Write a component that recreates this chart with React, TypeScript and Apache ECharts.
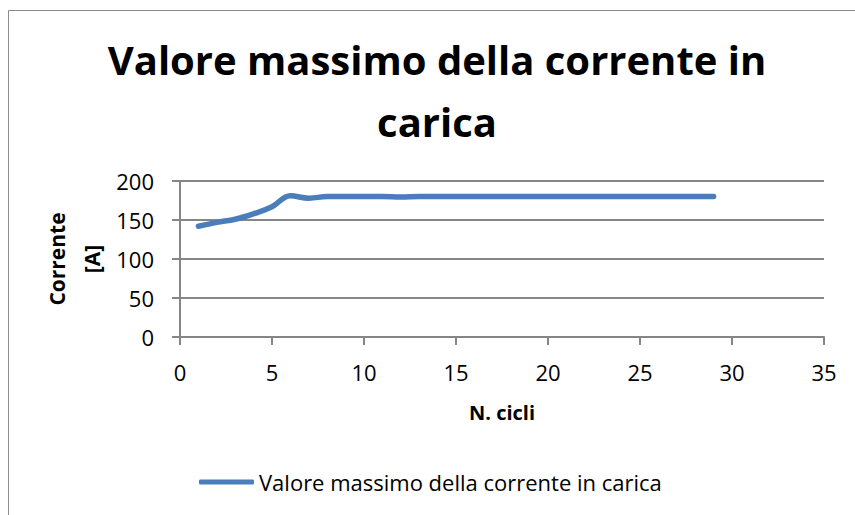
import React, { useEffect, useRef } from "react";
import * as echarts from "echarts";

const titleText = "Valore massimo della corrente in\ncarica";
const seriesName = "Valore massimo della corrente in carica";
const xName = "N. cicli";
const yName = "Corrente\n[A]";
const cycles = [1, 2, 3, 4, 5, 6, 7, 8, 9, 10, 11, 12, 13, 14, 15, 16, 17, 18, 19, 20, 21, 22, 23, 24, 25, 26, 27, 28, 29];
const current = [142, 147, 151, 158, 167, 181, 178, 180, 180, 180, 180, 179.5, 180, 180, 180, 180, 180, 180, 180, 180, 180, 180, 180, 180, 180, 180, 180, 180, 180];

const FONT = "'Open Sans', sans-serif";
const GRID = "#868686";
const BLUE = "#4A7EBB";

export default function App() {
  const ref = useRef<HTMLDivElement>(null);
  useEffect(() => {
    if (!ref.current) return;
    const chart = echarts.init(ref.current, undefined, { renderer: "svg" });
    chart.setOption({
      animation: false,
      backgroundColor: "#ffffff",
      title: {
        text: titleText,
        left: 437,
        top: 28,
        textAlign: "center",
        padding: 0,
        textStyle: { fontFamily: FONT, fontWeight: "bold", fontSize: 40, lineHeight: 62, color: "#000" },
      },
      graphic: [
        {
          type: "rect",
          shape: { x: 8.5, y: 10.5, width: 900, height: 600 },
          style: { fill: "none", stroke: "#8c8c8c", lineWidth: 1 },
          silent: true,
        },
      ],
      legend: {
        left: 199,
        top: 471,
        itemWidth: 55,
        itemHeight: 5,
        padding: 0,
        data: [{ name: seriesName, icon: "roundRect", itemStyle: { color: BLUE } }],
        textStyle: { fontFamily: FONT, fontSize: 22, color: "#000" },
      },
      grid: { left: 180, right: 31, top: 181, bottom: 178, containLabel: false },
      xAxis: {
        type: "value",
        min: 0,
        max: 35,
        interval: 5,
        name: xName,
        nameLocation: "middle",
        nameGap: 65,
        nameMoveOverlap: false,
        nameTextStyle: { fontFamily: FONT, fontWeight: "bold", fontSize: 20, color: "#000" },
        axisLine: { show: true, lineStyle: { color: GRID, width: 2 } },
        axisTick: { show: true, length: 8, lineStyle: { color: GRID, width: 2 } },
        axisLabel: { margin: 24, fontFamily: FONT, fontSize: 22, color: "#000" },
        splitLine: { show: false },
      },
      yAxis: {
        type: "value",
        min: 0,
        max: 200,
        interval: 50,
        name: yName,
        nameLocation: "middle",
        nameGap: 71,
        nameMoveOverlap: false,
        nameRotate: 90,
        nameTextStyle: { fontFamily: FONT, fontWeight: "bold", fontSize: 21, lineHeight: 35, color: "#000" },
        axisLine: { show: true, lineStyle: { color: GRID, width: 2 } },
        axisTick: { show: true, length: 8, lineStyle: { color: GRID, width: 2 } },
        axisLabel: { margin: 26, fontFamily: FONT, fontSize: 22, color: "#000" },
        splitLine: { show: true, lineStyle: { color: GRID, width: 2 } },
      },
      series: [
        {
          name: seriesName,
          type: "line",
          data: cycles.map((c, i) => [c, current[i]]),
          smooth: 0.4,
          symbol: "none",
          lineStyle: { color: BLUE, width: 5.5, cap: "round", join: "round" },
          itemStyle: { color: BLUE },
        },
      ],
    });
    return () => chart.dispose();
  }, []);
  return (
    <div
      ref={ref}
      style={{ position: "fixed", left: 0, top: 0, width: 855, height: 515, background: "#fff" }}
    />
  );
}
